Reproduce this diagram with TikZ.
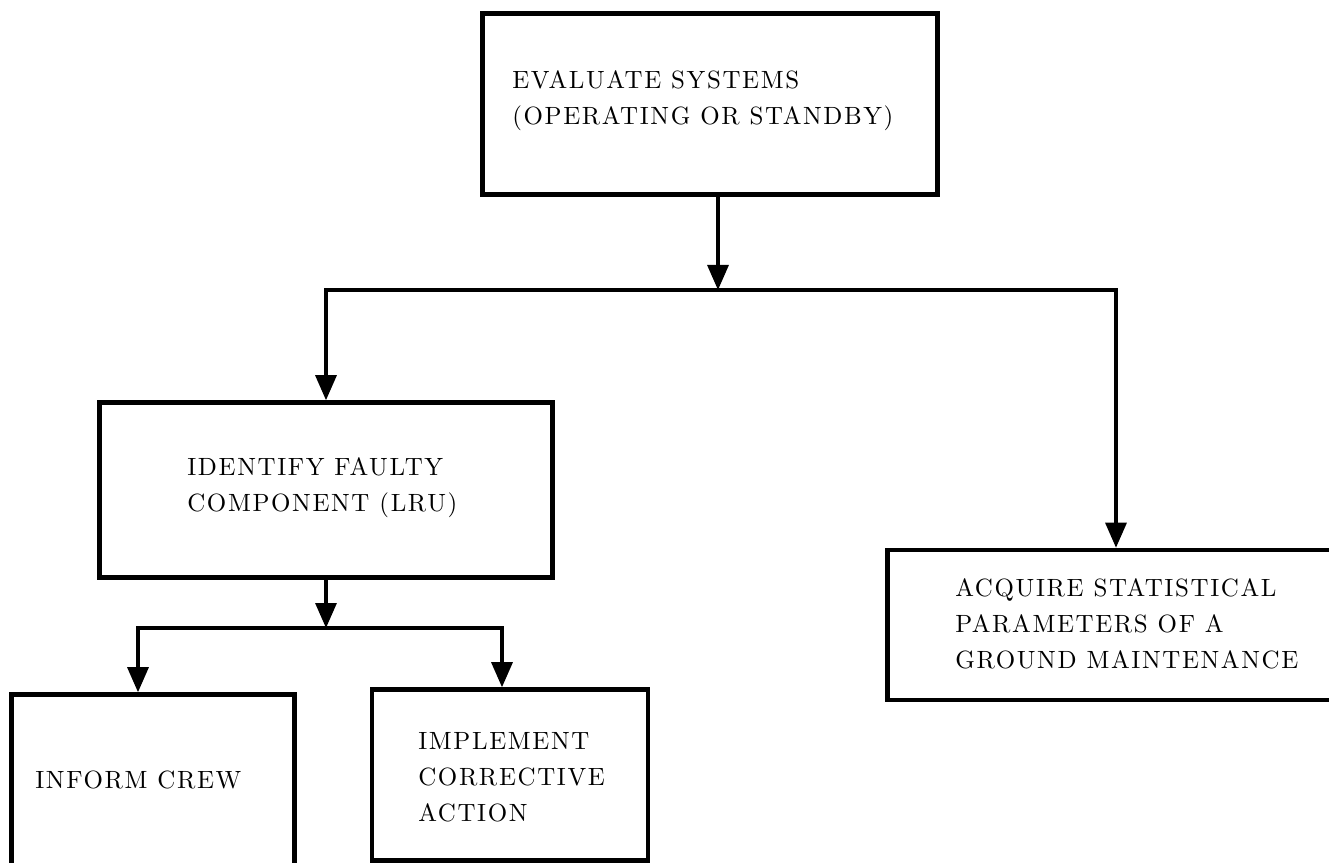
\documentclass[tikz,border=0pt]{standalone}
\usepackage{fontspec}
\setmainfont{lmroman10-regular.otf}[LetterSpace=6.5]
\usetikzlibrary{arrows.meta}
\newcommand{\taskfont}{\fontsize{14.2}{20.5}\selectfont}
\tikzstyle{task}=[draw, line width=2.6pt, inner sep=0]
\tikzstyle{caption}=[align=left, font=\taskfont, inner sep=0, anchor=west]
\tikzstyle{flow}=[line width=1.8pt, -{Triangle[width=4.2mm, length=5mm]}]

\begin{document}
\begin{tikzpicture}[x=0.2mm, y=-0.2mm]
      \useasboundingbox (0, 0) rectangle (1329, 863);

      \node[task, minimum width=91mm, minimum height=36.2mm] (evaluate) at (710, 104) {};
      \node[caption] (evaluate text) at (512, 101) {EVALUATE SYSTEMS\\(OPERATING OR STANDBY)};
      \coordinate (split) at (718, 290);

      \node[task, minimum width=90.6mm, minimum height=35mm] (identify) at (326, 490) {};
      \node[caption] (identify text) at (187, 488) {IDENTIFY FAULTY\\COMPONENT (LRU)};

      \node[task, minimum width=91.4mm, minimum height=30mm] (acquire) at (1116, 625) {};
      \node[caption] (acquire text) at (955, 624)
        {ACQUIRE STATISTICAL\\PARAMETERS OF A\\GROUND MAINTENANCE};

      \coordinate (branch) at (326, 628);
      \node[task, minimum width=56.6mm, minimum height=35mm] (inform) at (153, 782) {};
      \node[caption] (inform text) at (35, 780) {INFORM CREW};

      \node[task, minimum width=55.2mm, minimum height=34.2mm] (implement) at (510, 775) {};
      \node[caption] (implement text) at (418, 777) {IMPLEMENT\\CORRECTIVE\\ACTION};

      \draw[flow] (evaluate.south -| split) -- (split);
      \draw[flow] (split) -| (identify.north);
      \draw[flow] (split) -| (acquire.north);

      \draw[flow] (identify.south) -- (branch);
      \draw[flow] (branch) -| ([xshift=-3mm]inform.north);
      \draw[flow] (branch) -| ([xshift=-1.6mm]implement.north);
    \end{tikzpicture}
\end{document}
